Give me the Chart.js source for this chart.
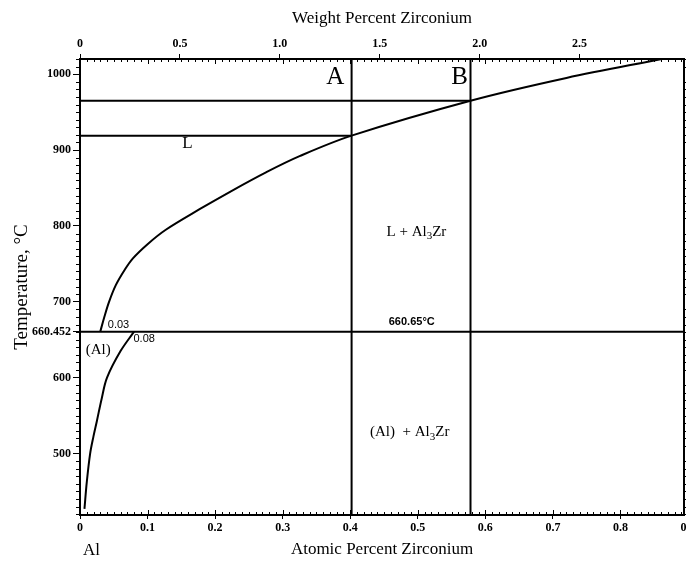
<!DOCTYPE html>
<html>
<head>
<meta charset="utf-8">
<script src="https://cdn.jsdelivr.net/npm/chart.js@4.4.1/dist/chart.umd.min.js"></script>
<style>
  html, body { margin: 0; padding: 0; background: #fff; }
  #wrap { width: 687px; height: 565px; }
</style>
</head>
<body>
<div id="wrap"><canvas id="chart"></canvas></div>
<script>
// Al-Zr phase diagram, aluminium-rich corner

// axis ranges / ticks
const atMax = 0.894;          // at.% Zr at the right frame
const tMin = 419, tMax = 1020;
const WT_PER_AT = 3.381;      // 91.224 / 26.982
const atTicks = [0, 0.1, 0.2, 0.3, 0.4, 0.5, 0.6, 0.7, 0.8, 0.9];
const wtTicks = [0, 0.5, 1.0, 1.5, 2.0, 2.5];
const tempTicks = [500, 600, 660.452, 700, 800, 900, 1000];

// liquidus  L / L + Al3Zr
const liquidusAt = [0.03, 0.036, 0.043, 0.053, 0.066, 0.078, 0.1, 0.127, 0.177, 0.226, 0.276, 0.325, 0.402, 0.578, 0.72, 0.861];
const liquidusT  = [660.65, 680, 700, 722, 742, 757, 776, 795, 822, 847, 871, 892, 919, 965, 995, 1020];

// solvus  (Al) / (Al) + Al3Zr
const solvusAt = [0.0066, 0.01, 0.015, 0.02, 0.025, 0.032, 0.04, 0.06, 0.08];
const solvusT  = [427, 462, 500, 523, 543, 572, 600, 635, 660.65];

// peritectic and the two alloy lines
const peritecticT = 660.65;
const alloyAt = [0.402, 0.578];   // A, B
const alloyT  = [919, 965];       // liquidus temperature of A, B

const serif = '"Liberation Serif", "Times New Roman", serif';
const sans = '"Liberation Sans", Arial, sans-serif';

// text on the diagram: [parts, at.%, temperature, font]
const labels = [
  [['A'], 0.378, 996, '25px ' + serif],
  [['B'], 0.562, 996, '25px ' + serif],
  [['L'], 0.159, 908, '17px ' + serif],
  [['L + Al', '_3', 'Zr'], 0.498, 792, '15px ' + serif],
  [['(Al)  + Al', '_3', 'Zr'], 0.488, 528, '15px ' + serif],
  [['660.65°C'], 0.491, 673, 'bold 11px ' + sans],
  [['0.03'], 0.057, 669, '11px ' + sans],
  [['0.08'], 0.095, 651, '11px ' + sans],
  [['(Al)'], 0.027, 636, '15px ' + serif],
  [['Al'], 0.017, 372, '17px ' + serif]
];

const pts = (xs, ys) => xs.map((x, i) => ({ x, y: ys[i] }));

const line = (data, extra) => Object.assign({
  data,
  borderColor: '#000',
  borderWidth: 2,
  pointRadius: 0,
  showLine: true,
  fill: false
}, extra || {});

const datasets = [
  line(pts(liquidusAt, liquidusT), { tension: 0.35 }),
  line(pts(solvusAt, solvusT), { tension: 0.35 }),
  line([{ x: 0, y: peritecticT }, { x: atMax, y: peritecticT }]),
  line([{ x: 0, y: alloyT[0] }, { x: alloyAt[0], y: alloyT[0] }]),
  line([{ x: 0, y: alloyT[1] }, { x: alloyAt[1], y: alloyT[1] }]),
  line([{ x: alloyAt[0], y: tMin }, { x: alloyAt[0], y: tMax }]),
  line([{ x: alloyAt[1], y: tMin }, { x: alloyAt[1], y: tMax }])
];

// small tick marks along the frame
const minorTicks = {
  id: 'minorTicks',
  afterDatasetsDraw(chart) {
    const { ctx, chartArea: a, scales } = chart;
    ctx.save();
    ctx.strokeStyle = '#000';
    ctx.lineWidth = 1;
    ctx.beginPath();
    for (let i = 0; i <= 89; i++) {
      const px = Math.round(scales.x.getPixelForValue(i / 100)) + 0.5;
      if (px > a.right) break;
      const len = i % 10 === 0 ? 5 : 3;
      ctx.moveTo(px, a.bottom); ctx.lineTo(px, a.bottom - len);
      ctx.moveTo(px, a.top); ctx.lineTo(px, a.top + len);
    }
    for (let t = 420; t <= 1020; t += 10) {
      if (t % 100 === 0) continue;
      const py = Math.round(scales.y.getPixelForValue(t)) + 0.5;
      ctx.moveTo(a.left, py); ctx.lineTo(a.left - 4, py);
      ctx.moveTo(a.right, py); ctx.lineTo(a.right + 2, py);
    }
    ctx.stroke();
    ctx.restore();
  }
};

// diagram labels, with '_' parts set as subscripts
const diagramText = {
  id: 'diagramText',
  afterDraw(chart) {
    const { ctx, scales } = chart;
    ctx.save();
    ctx.fillStyle = '#000';
    ctx.textBaseline = 'middle';
    ctx.textAlign = 'left';
    labels.forEach(([parts, xv, yv, font]) => {
      const size = parseFloat(font.match(/(\d+)px/)[1]);
      const subFont = font.replace(/\d+px/, Math.round(size * 0.7) + 'px');
      let w = 0;
      parts.forEach(p => {
        ctx.font = p[0] === '_' ? subFont : font;
        w += ctx.measureText(p[0] === '_' ? p.slice(1) : p).width;
      });
      let px = scales.x.getPixelForValue(xv) - w / 2;
      const py = scales.y.getPixelForValue(yv);
      parts.forEach(p => {
        const sub = p[0] === '_';
        const s = sub ? p.slice(1) : p;
        ctx.font = sub ? subFont : font;
        ctx.fillText(s, px, sub ? py + size * 0.3 : py);
        px += ctx.measureText(s).width;
      });
    });
    ctx.restore();
  }
};

const tickFont = { family: serif, size: 12, weight: 'bold' };
const noPad = s => { s.paddingLeft = 0; s.paddingRight = 0; s.paddingTop = 0; s.paddingBottom = 0; };

new Chart(document.getElementById('chart'), {
  type: 'scatter',
  data: { datasets },
  options: {
    responsive: true,
    maintainAspectRatio: false,
    animation: false,
    layout: { padding: 0 },
    plugins: { legend: { display: false }, tooltip: { enabled: false } },
    scales: {
      x: {
        type: 'linear', position: 'bottom', min: 0, max: atMax,
        afterBuildTicks: s => { s.ticks = atTicks.map(v => ({ value: v })); },
        afterFit: s => { s.height = 50; noPad(s); },
        ticks: {
          autoSkip: false, maxRotation: 0, padding: 2, color: '#000', font: tickFont,
          callback: v => v === 0 ? '0' : v.toFixed(1)
        },
        grid: { drawOnChartArea: false, tickLength: 4, color: '#000' },
        border: { color: '#000', width: 2 },
        title: {
          display: true, text: 'Atomic Percent Zirconium', color: '#000',
          font: { family: serif, size: 17 }, padding: { top: 0, bottom: 5 }
        }
      },
      xw: {
        type: 'linear', position: 'top', min: 0, max: atMax * WT_PER_AT,
        afterBuildTicks: s => { s.ticks = wtTicks.map(v => ({ value: v })); },
        afterFit: s => { s.height = 59; noPad(s); },
        ticks: {
          autoSkip: false, maxRotation: 0, padding: 3, color: '#000', font: tickFont,
          callback: v => v === 0 ? '0' : v.toFixed(1)
        },
        grid: { drawOnChartArea: false, tickLength: 5, color: '#000' },
        border: { color: '#000', width: 2 },
        title: {
          display: true, text: 'Weight Percent Zirconium', color: '#000',
          font: { family: serif, size: 17 }, padding: { top: 8, bottom: 0 }
        }
      },
      y: {
        type: 'linear', position: 'left', min: tMin, max: tMax,
        afterBuildTicks: s => { s.ticks = tempTicks.map(v => ({ value: v })); },
        afterFit: s => { s.width = 80; noPad(s); },
        ticks: {
          autoSkip: false, padding: 2, color: '#000', font: tickFont,
          callback: v => String(v)
        },
        grid: { drawOnChartArea: false, tickLength: 7, color: '#000' },
        border: { color: '#000', width: 2 },
        title: {
          display: true, text: 'Temperature, °C', color: '#000',
          font: { family: serif, size: 19 }, padding: { top: 11, bottom: 0 }
        }
      },
      yr: {
        type: 'linear', position: 'right', min: tMin, max: tMax,
        afterFit: s => { s.width = 3; noPad(s); },
        ticks: { display: false },
        grid: { drawOnChartArea: false, drawTicks: false },
        border: { color: '#000', width: 2 }
      }
    }
  },
  plugins: [minorTicks, diagramText]
});
</script>
</body>
</html>
